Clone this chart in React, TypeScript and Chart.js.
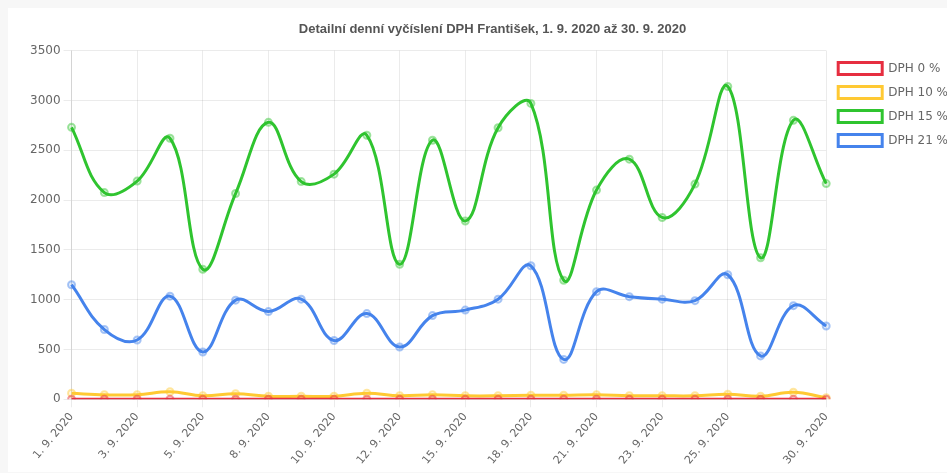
import React, { useEffect, useRef } from 'react';
import { Chart, registerables } from 'chart.js';

Chart.register(...registerables);

const chartTitle = 'Detailní denní vyčíslení DPH František, 1. 9. 2020 až 30. 9. 2020';

const dates = [
  '1. 9. 2020', '2. 9. 2020', '3. 9. 2020', '4. 9. 2020', '5. 9. 2020', '7. 9. 2020',
  '8. 9. 2020', '9. 9. 2020', '10. 9. 2020', '11. 9. 2020', '12. 9. 2020', '14. 9. 2020',
  '15. 9. 2020', '16. 9. 2020', '18. 9. 2020', '19. 9. 2020', '21. 9. 2020', '22. 9. 2020',
  '23. 9. 2020', '24. 9. 2020', '25. 9. 2020', '26. 9. 2020', '29. 9. 2020', '30. 9. 2020',
];

const shownLabelIdx = [0, 2, 4, 6, 8, 10, 12, 14, 16, 18, 20, 23];

const seriesNames = ['DPH 0 %', 'DPH 10 %', 'DPH 15 %', 'DPH 21 %'];
const seriesColors = ['230, 46, 64', '255, 201, 51', '47, 196, 47', '69, 131, 236'];

const vat0 = [0, 0, 0, 0, 0, 0, 0, 0, 0, 0, 0, 0, 0, 0, 0, 0, 0, 0, 0, 0, 0, 0, 0, 0];
const vat10 = [60, 45, 45, 75, 35, 55, 30, 30, 30, 60, 35, 45, 35, 35, 40, 40, 45, 35, 35, 35, 50, 30, 70, 15];
const vat15 = [2730, 2075, 2190, 2620, 1305, 2065, 2780, 2185, 2260, 2650, 1355, 2600, 1790, 2725, 2970, 1195, 2100, 2410, 1825, 2160, 3140, 1420, 2800, 2165];
const vat21 = [1150, 700, 595, 1035, 475, 995, 880, 1005, 590, 860, 525, 840, 895, 1005, 1340, 400, 1080, 1030, 1005, 990, 1250, 435, 940, 735];

const yMin = 0;
const yMax = 3500;
const yStep = 500;

export default function App() {
  const canvasRef = useRef<HTMLCanvasElement | null>(null);

  useEffect(() => {
    document.documentElement.style.overflow = 'hidden';
    document.body.style.overflow = 'hidden';
    document.body.style.background = '#f7f7f7';
    const canvas = canvasRef.current;
    if (!canvas) return;
    const allSeries = [vat0, vat10, vat15, vat21];
    const chart = new Chart(canvas, {
      type: 'line',
      data: {
        labels: dates,
        datasets: allSeries.map((values, i) => ({
          label: seriesNames[i],
          data: values,
          borderColor: `rgb(${seriesColors[i]})`,
          backgroundColor: '#ffffff',
          borderWidth: 3,
          tension: 0.4,
          fill: false,
          pointRadius: 3.5,
          pointBorderWidth: 2,
          pointBackgroundColor: `rgba(${seriesColors[i]}, 0.15)`,
          pointBorderColor: `rgba(${seriesColors[i]}, 0.45)`,
        })),
      },
      options: {
        animation: false,
        responsive: true,
        maintainAspectRatio: false,
        layout: { padding: { left: 19, right: 10, top: 8, bottom: 2 } },
        plugins: {
          title: {
            display: true,
            text: chartTitle,
            color: '#555',
            font: { family: 'Liberation Sans', size: 13, weight: 'bold' },
            padding: { top: 6, bottom: 13 },
          },
          legend: {
            position: 'right',
            align: 'start',
            fullSize: false,
            labels: {
              boxWidth: 44,
              boxHeight: 12,
              padding: 12,
              color: '#666',
              font: { family: 'DejaVu Sans', size: 12 },
            },
          },
          tooltip: { enabled: false },
        },
        scales: {
          x: {
            grid: { color: 'rgba(0,0,0,0.08)' },
            border: { color: 'rgba(0,0,0,0.1)' },
            ticks: {
              autoSkip: false,
              minRotation: 50,
              maxRotation: 50,
              color: '#666',
              font: { family: 'DejaVu Sans', size: 11 },
              callback: (_v: any, idx: number) => (shownLabelIdx.includes(idx) ? dates[idx] : null),
            },
          },
          y: {
            min: yMin,
            max: yMax,
            grid: { color: 'rgba(0,0,0,0.08)' },
            border: { color: 'rgba(0,0,0,0.1)' },
            ticks: {
              stepSize: yStep,
              color: '#666',
              font: { family: 'DejaVu Sans', size: 12 },
              callback: (v: any) => String(v),
            },
          },
        },
      },
    });
    return () => chart.destroy();
  }, []);

  return (
    <div style={{ position: 'fixed', left: 8, top: 8, width: 960, height: 464, background: '#ffffff' }}>
      <canvas ref={canvasRef} />
    </div>
  );
}
